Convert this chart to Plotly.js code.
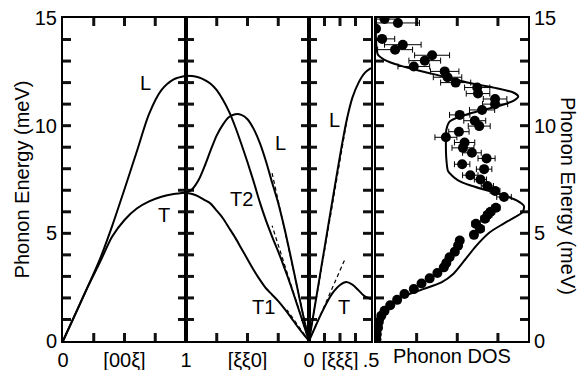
<!DOCTYPE html>
<html>
<head>
<meta charset="utf-8">
<script src="https://cdn.plot.ly/plotly-3.0.1.min.js"></script>
<style>html,body{margin:0;padding:0;background:#fff;}#chart{width:582px;height:370px;}</style>
</head>
<body>
<div id="chart"></div>
<script>
// ---------- data ----------
// Panel 1: [00ξ], ξ from 0 to 1
const p1Xi = [0, 0.1, 0.2, 0.3, 0.4, 0.5, 0.6, 0.7, 0.8, 0.9, 1.0];
const p1L  = [0, 1.25, 2.5, 3.8, 5.35, 7.05, 8.8, 10.55, 11.65, 12.15, 12.32];
const p1T  = [0, 1.25, 2.5, 3.65, 4.85, 5.62, 6.15, 6.48, 6.7, 6.83, 6.89];

// Panel 2: [ξξ0], ξ from 1 down to 0
const p2Xi = [1, 0.95, 0.9, 0.85, 0.8, 0.75, 0.7, 0.65, 0.6, 0.55, 0.5, 0.45, 0.4, 0.35, 0.3, 0.25, 0.2, 0.15, 0.1, 0.05, 0];
const p2T2 = [12.32, 12.31, 12.25, 12.13, 11.95, 11.65, 11.2, 10.65, 9.95, 9.15, 8.3, 7.4, 6.45, 5.6, 4.85, 4.15, 3.4, 2.6, 1.75, 0.88, 0];
const p2L  = [6.89, 7.05, 7.45, 8.1, 8.85, 9.55, 10.05, 10.4, 10.53, 10.5, 10.3, 9.85, 9.2, 8.35, 7.36, 6.4, 5.25, 3.95, 2.6, 1.25, 0];
const p2T1 = [6.89, 6.83, 6.72, 6.55, 6.38, 6.05, 5.7, 5.25, 4.8, 4.3, 3.8, 3.3, 2.85, 2.45, 2.15, 1.85, 1.5, 1.12, 0.72, 0.35, 0];
const p2TanXi = [0, 0.3];
const p2TanL  = [0, 7.8];
const p2TanT2 = [0, 5.35];
const p2TanT1Xi = [0, 0.18];
const p2TanT1 = [0, 1.45];

// Panel 3: [ξξξ], ξ from 0 to 0.5
const p3Xi = [0, 0.05, 0.1, 0.15, 0.2, 0.25, 0.3, 0.35, 0.4, 0.45, 0.5];
const p3L  = [0, 1.72, 3.45, 5.18, 6.9, 8.6, 10.15, 11.3, 12.0, 12.45, 12.67];
const p3T  = [0, 0.65, 1.28, 1.85, 2.3, 2.6, 2.74, 2.62, 2.35, 2.07, 1.95];
const p3TanLXi = [0, 0.31];
const p3TanL   = [0, 10.4];
const p3TanTXi = [0, 0.29];
const p3TanT   = [0, 3.8];

// Panel 4: phonon DOS (measured points with horizontal error bars, and model curve)
const dosE   = [14.95, 14.77, 14.5, 14.03, 13.76, 13.53, 13.27, 13.02, 12.75, 12.52, 12.25, 12.0, 11.77, 11.49, 11.24, 11.0, 10.73, 10.5, 10.23, 9.98, 9.72, 9.46, 9.22, 8.97, 8.74, 8.48, 8.21, 7.98, 7.7, 7.5, 7.2, 6.97, 6.69, 6.19, 6.0, 5.86, 5.68, 5.44, 5.21, 4.93, 4.67, 4.43, 4.15, 3.89, 3.62, 3.42, 3.16, 2.91, 2.67, 2.41, 2.18, 1.91, 1.66, 1.4, 1.17, 0.89, 0.62, 0.31, 0.08];
const dosVal = [0.21, 0.54, 0.0, 0.15, 0.66, 0.47, 1.38, 1.2, 0.93, 1.69, 1.76, 1.96, 2.49, 2.51, 2.93, 2.93, 2.61, 2.06, 2.43, 2.54, 2.04, 1.72, 2.18, 2.14, 2.36, 2.72, 2.12, 2.66, 2.32, 2.57, 2.74, 2.93, 3.15, 2.95, 2.82, 2.75, 2.68, 2.46, 2.56, 2.41, 2.06, 2.02, 1.94, 1.81, 1.73, 1.67, 1.51, 1.32, 1.12, 0.93, 0.7, 0.52, 0.35, 0.21, 0.13, 0.07, 0.05, 0.02, 0.01];
const dosErr = [0.35, 0.53, 0, 0.31, 0.45, 0.43, 0.43, 0.39, 0.39, 0.35, 0.35, 0.37, 0.31, 0.29, 0.29, 0.31, 0.31, 0.25, 0.27, 0.27, 0.25, 0.27, 0.25, 0.27, 0.23, 0.21, 0.19, 0.19, 0.19, 0.15, 0.15, 0.12, 0.18, 0.1, 0.1, 0.1, 0.1, 0.1, 0.1, 0.08, 0.08, 0, 0, 0, 0, 0, 0, 0, 0, 0, 0, 0, 0, 0, 0, 0, 0, 0, 0];
const dosCurveE   = [15.0, 14.0, 13.3, 13.06, 12.8, 12.55, 12.29, 11.98, 11.74, 11.54, 11.35, 11.15, 10.89, 10.65, 10.42, 10.19, 9.8, 9.25, 8.48, 7.9, 7.7, 7.46, 7.23, 7.0, 6.77, 6.53, 6.27, 5.99, 5.75, 5.44, 5.05, 4.43, 3.65, 3.11, 2.72, 2.41, 2.13, 1.91, 1.63, 1.17, 0.54, 0.0];
const dosCurveVal = [0.0, 0.0, 0.045, 0.21, 0.58, 1.07, 1.65, 2.31, 2.97, 3.38, 3.5, 3.38, 2.97, 2.47, 2.06, 1.81, 1.73, 1.72, 1.73, 1.77, 1.86, 2.02, 2.31, 2.72, 3.13, 3.46, 3.64, 3.61, 3.42, 3.13, 2.8, 2.47, 2.14, 1.9, 1.61, 1.16, 0.75, 0.5, 0.29, 0.13, 0.05, 0.0];

// Axis ranges and tick labels
const x1Range = [0, 1];   const x1Ticks = [0, 0.25, 0.5, 0.75, 1];      const x1Text = ['0', '', '[00ξ]', '', '1'];
const x2Range = [1, 0];   const x2Ticks = [1, 0.75, 0.5, 0.25, 0];      const x2Text = ['', '', '[ξξ0]', '', '0'];
const x3Range = [0, 0.5]; const x3Ticks = [0, 0.125, 0.25, 0.375, 0.5]; const x3Text = ['', '', '[ξξξ]', '', '.5'];
const x4Range = [0, 3.74]; const x4Ticks = [1, 2, 3];
const yRange = [0, 15];
const yTicks = [0,1,2,3,4,5,6,7,8,9,10,11,12,13,14,15];
const yText  = ['0','','','','','5','','','','','10','','','','','15'];

// ---------- geometry (pixels) ----------
const W = 582, H = 370, M = {l: 63, r: 54, t: 18, b: 29};
const PW = W - M.l - M.r, PH = H - M.t - M.b;
const edges = [0, 123, 246, 308, 313, PW];          // panel borders in px from plot left
const d1 = edges[1] / PW, d2 = edges[2] / PW, d3 = edges[3] / PW, d4 = edges[4] / PW;
const TICK = 8;                                       // tick length from the border, px

// ---------- drawing ----------
const FONT = 'Liberation Sans, Arial, sans-serif';
const solid = {color: 'black', width: 2, shape: 'spline', smoothing: 0.8};
const dashed = {color: 'black', width: 1.2, dash: '4px,3px'};
function line(x, y, xa, ya, ln) {
  return {x: x, y: y, xaxis: xa, yaxis: ya, mode: 'lines', line: ln, hoverinfo: 'skip', showlegend: false};
}
// inward tick marks along the four borders of a panel (they meet across shared borders)
function tickMarks(xa, ya, xr, xt, wPx) {
  const dx = TICK * (xr[1] - xr[0]) / wPx;
  const dy = TICK * (yRange[1] - yRange[0]) / PH;
  const inner = (v, r) => v !== r[0] && v !== r[1];
  const xs = [], ys = [];
  yTicks.filter(v => inner(v, yRange)).forEach(v => {
    xs.push(xr[0], xr[0] + dx, null, xr[1], xr[1] - dx, null); ys.push(v, v, null, v, v, null);
  });
  xt.filter(v => inner(v, xr)).forEach(v => {
    xs.push(v, v, null, v, v, null); ys.push(yRange[0], yRange[0] + dy, null, yRange[1], yRange[1] - dy, null);
  });
  return {x: xs, y: ys, xaxis: xa, yaxis: ya, mode: 'lines', hoverinfo: 'skip', showlegend: false,
          connectgaps: false, line: {color: '#111', width: 3, simplify: false}};
}
const traces = [
  tickMarks('x', 'y', x1Range, x1Ticks, edges[1] - edges[0]),
  tickMarks('x2', 'y2', x2Range, x2Ticks, edges[2] - edges[1]),
  tickMarks('x3', 'y3', x3Range, x3Ticks, edges[3] - edges[2]),
  tickMarks('x4', 'y4', x4Range, x4Ticks, edges[5] - edges[4]),
  line(p1Xi, p1L, 'x', 'y', solid),
  line(p1Xi, p1T, 'x', 'y', solid),
  line(p2TanXi, p2TanL, 'x2', 'y2', dashed),
  line(p2TanXi, p2TanT2, 'x2', 'y2', dashed),
  line(p2TanT1Xi, p2TanT1, 'x2', 'y2', dashed),
  line(p2Xi, p2T2, 'x2', 'y2', solid),
  line(p2Xi, p2L, 'x2', 'y2', solid),
  line(p2Xi, p2T1, 'x2', 'y2', solid),
  line(p3TanLXi, p3TanL, 'x3', 'y3', dashed),
  line(p3TanTXi, p3TanT, 'x3', 'y3', dashed),
  line(p3Xi, p3L, 'x3', 'y3', solid),
  line(p3Xi, p3T, 'x3', 'y3', solid),
  line(dosCurveVal, dosCurveE, 'x4', 'y4', {color: 'black', width: 2, shape: 'spline', smoothing: 0.7}),
  {x: dosVal, y: dosE, xaxis: 'x4', yaxis: 'y4', mode: 'markers', showlegend: false, hoverinfo: 'skip',
   marker: {size: 10, color: 'black'},
   error_x: {type: 'data', array: dosErr, visible: true, color: 'black', thickness: 1, width: 3}}
];

const tf = {family: FONT, size: 20, color: 'black'};
const base = {showline: true, linecolor: 'black', linewidth: 2, ticks: '', mirror: true,
  showgrid: false, zeroline: false, tickfont: tf, tickmode: 'array'};
const yBase = Object.assign({}, base, {range: yRange, tickvals: yTicks, ticktext: yText, domain: [0, 1]});

const layout = {
  width: W, height: H, margin: M, showlegend: false,
  xaxis:  Object.assign({}, base, {domain: [0, d1],  range: x1Range, anchor: 'y',  tickvals: x1Ticks, ticktext: x1Text}),
  xaxis2: Object.assign({}, base, {domain: [d1, d2], range: x2Range, anchor: 'y2', tickvals: x2Ticks, ticktext: x2Text}),
  xaxis3: Object.assign({}, base, {domain: [d2, d3], range: x3Range, anchor: 'y3', tickvals: x3Ticks, ticktext: x3Text}),
  xaxis4: Object.assign({}, base, {domain: [d4, 1],  range: x4Range, anchor: 'y4', tickvals: x4Ticks, showticklabels: false}),
  yaxis:  Object.assign({}, yBase, {anchor: 'x', title: {text: 'Phonon Energy (meV)', font: tf, standoff: 0}}),
  yaxis2: Object.assign({}, yBase, {anchor: 'x2', showticklabels: false}),
  yaxis3: Object.assign({}, yBase, {anchor: 'x3', showticklabels: false}),
  yaxis4: Object.assign({}, yBase, {anchor: 'x4', side: 'right'}),
  annotations: [
    {text: 'L',  x: 0.667, y: 12.0, xref: 'x',  yref: 'y',  showarrow: false, font: tf},
    {text: 'T',  x: 0.82,  y: 5.86, xref: 'x',  yref: 'y',  showarrow: false, font: tf},
    {text: 'L',  x: 0.233, y: 9.2,  xref: 'x2', yref: 'y2', showarrow: false, font: tf},
    {text: 'T2', x: 0.545, y: 6.58, xref: 'x2', yref: 'y2', showarrow: false, font: tf},
    {text: 'T1', x: 0.368, y: 1.6,  xref: 'x2', yref: 'y2', showarrow: false, font: tf},
    {text: 'L',  x: 0.204, y: 10.28, xref: 'x3', yref: 'y3', showarrow: false, font: tf},
    {text: 'T',  x: 0.285, y: 1.6,  xref: 'x3', yref: 'y3', showarrow: false, font: tf},
    {text: 'Phonon DOS', x: 0.5, y: 0, xref: 'x4 domain', yref: 'paper', yanchor: 'top', yshift: -2, showarrow: false, font: tf},
    {text: 'Phonon Energy (meV)', x: (568 - M.l) / PW, y: (H - M.b - 196) / PH, xref: 'paper', yref: 'paper',
     xanchor: 'center', yanchor: 'middle', showarrow: false, font: tf, textangle: 90}
  ]
};

Plotly.newPlot('chart', traces, layout, {displayModeBar: false, staticPlot: true});
</script>
</body>
</html>
